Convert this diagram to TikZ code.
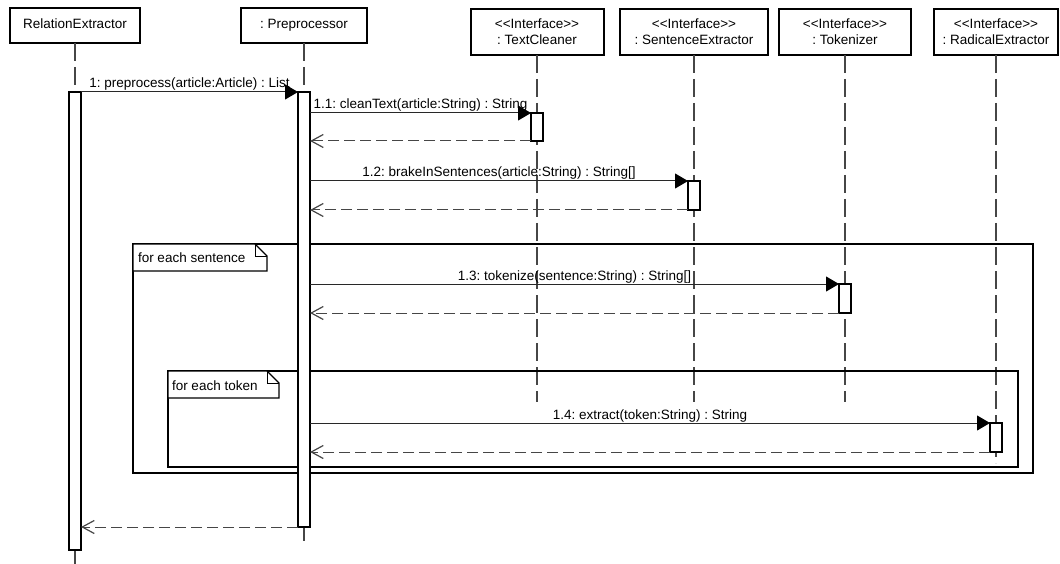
\documentclass[tikz,border=0pt]{standalone}
\usepackage{fontspec}
\newfontfamily\umlfont{Liberation Sans}
\usetikzlibrary{arrows.meta}
\definecolor{dashgray}{RGB}{70,70,70}
\definecolor{msgline}{RGB}{40,40,40}
\newcommand{\stereo}[1]{\textless\kern0pt\textless#1\textgreater\kern0pt\textgreater}
\frenchspacing

\begin{document}
\begin{tikzpicture}[x=1pt,y=-1pt,
  every node/.style={font=\umlfont\fontsize{13.5}{16}\selectfont, inner sep=0pt, outer sep=0pt},
  head/.style={draw=black, line width=2pt, fill=white, minimum height=35pt,
               text height=9.5pt, text depth=3pt},
  ihead/.style={draw=black, line width=2pt, fill=white, minimum height=46pt, align=center},
  bar/.style={draw=black, line width=1.3pt, fill=white, minimum width=12pt},
  lifeline/.style={draw=dashgray, line width=1.2pt, dash pattern=on 18pt off 6pt},
  call/.style={draw=msgline, line width=1pt, -{Triangle[length=13pt,width=15pt,color=black]}},
  reply/.style={draw=dashgray, line width=1pt, dash pattern=on 11pt off 5pt,
                -{Straight Barb[length=12pt,width=13pt,line width=1.2pt]}},
  msglabel/.style={anchor=base, yshift=4pt},
  frame/.style={draw=black, line width=1.3pt},
  tabtext/.style={anchor=base west},
]
\fill[white] (0,0) rectangle (1060,564);
\useasboundingbox (0,0) rectangle (1060,564);

% participants
\node[head, minimum width=130pt] (hRE) at (75,25.5) {RelationExtractor};
\node[head, minimum width=126pt] (hP) at (304,25.5) {: Preprocessor};
\node[ihead, minimum width=133pt] (hTC) at (537,32) {\stereo{Interface}\\: TextCleaner};
\node[ihead, minimum width=148pt] (hSE) at (694,32) {\stereo{Interface}\\: SentenceExtractor};
\node[ihead, minimum width=132pt] (hTK) at (845,32) {\stereo{Interface}\\: Tokenizer};
\node[ihead, minimum width=124pt] (hRX) at (996,32) {\stereo{Interface}\\: RadicalExtractor};

% lifeline ends
\coordinate (eRE) at (75,564);
\coordinate (eP) at (304,546);
\coordinate (eTC) at (537,402);
\coordinate (eSE) at (694,402);
\coordinate (eTK) at (845,402);
\coordinate (eRX) at (996,463);

\draw[lifeline] (hRE.south) -- (eRE);
\draw[lifeline] (hP.south) -- (eP);
\draw[lifeline] (hTC.south) -- (eTC);
\draw[lifeline] (hSE.south) -- (eSE);
\draw[lifeline] (hTK.south) -- (eTK);
\draw[lifeline] (hRX.south) -- (eRX);

% combined fragments
\draw[frame] (133,244) rectangle (1033,473);
\draw[frame, fill=white] (133,244) -- (255,244) -- (267,256) -- (267,271) -- (133,271) -- cycle;
\draw[frame, line width=1pt] (255,244) -- (255,256) -- (267,256);
\node[tabtext] (fSent) at (138,262) {for each sentence};

\draw[frame] (168,371) rectangle (1018,467);
\draw[frame, fill=white] (168,371) -- (267,371) -- (279,383) -- (279,398) -- (168,398) -- cycle;
\draw[frame, line width=1pt] (267,371) -- (267,383) -- (279,383);
\node[tabtext] (fTok) at (172,390) {for each token};

% activation bars
\node[bar, minimum height=458pt] (bRE) at (75,321) {};
\node[bar, minimum height=435pt] (bP) at (304,309.5) {};
\node[bar, minimum height=28pt] (bTC) at (537,127) {};
\node[bar, minimum height=29pt] (bSE) at (694,195.5) {};
\node[bar, minimum height=29pt] (bTK) at (845,298.5) {};
\node[bar, minimum height=29pt] (bRX) at (996,437.5) {};

% messages
\draw[call] (bRE.north east) -- (bP.north west)
  node[midway, msglabel] (m1) {1: preprocess(article:Article) : List};
\draw[call] (bP.east |- bTC.north) -- (bTC.north west)
  node[midway, msglabel] (m11) {1.1: cleanText(article:String) : String};
\draw[reply] (bTC.south west) -- (bP.east |- bTC.south);
\draw[call] (bP.east |- bSE.north) -- (bSE.north west)
  node[midway, msglabel] (m12) {1.2: brakeInSentences(article:String) : String[]};
\draw[reply] (bSE.south west) -- (bP.east |- bSE.south);
\draw[call] (bP.east |- bTK.north) -- (bTK.north west)
  node[midway, msglabel] (m13) {1.3: tokenize(sentence:String) : String[]};
\draw[reply] (bTK.south west) -- (bP.east |- bTK.south);
\draw[call] (bP.east |- bRX.north) -- (bRX.north west)
  node[midway, msglabel] (m14) {1.4: extract(token:String) : String};
\draw[reply] (bRX.south west) -- (bP.east |- bRX.south);
\draw[reply] (bP.south west) -- (bRE.east |- bP.south);
\end{tikzpicture}
\end{document}
